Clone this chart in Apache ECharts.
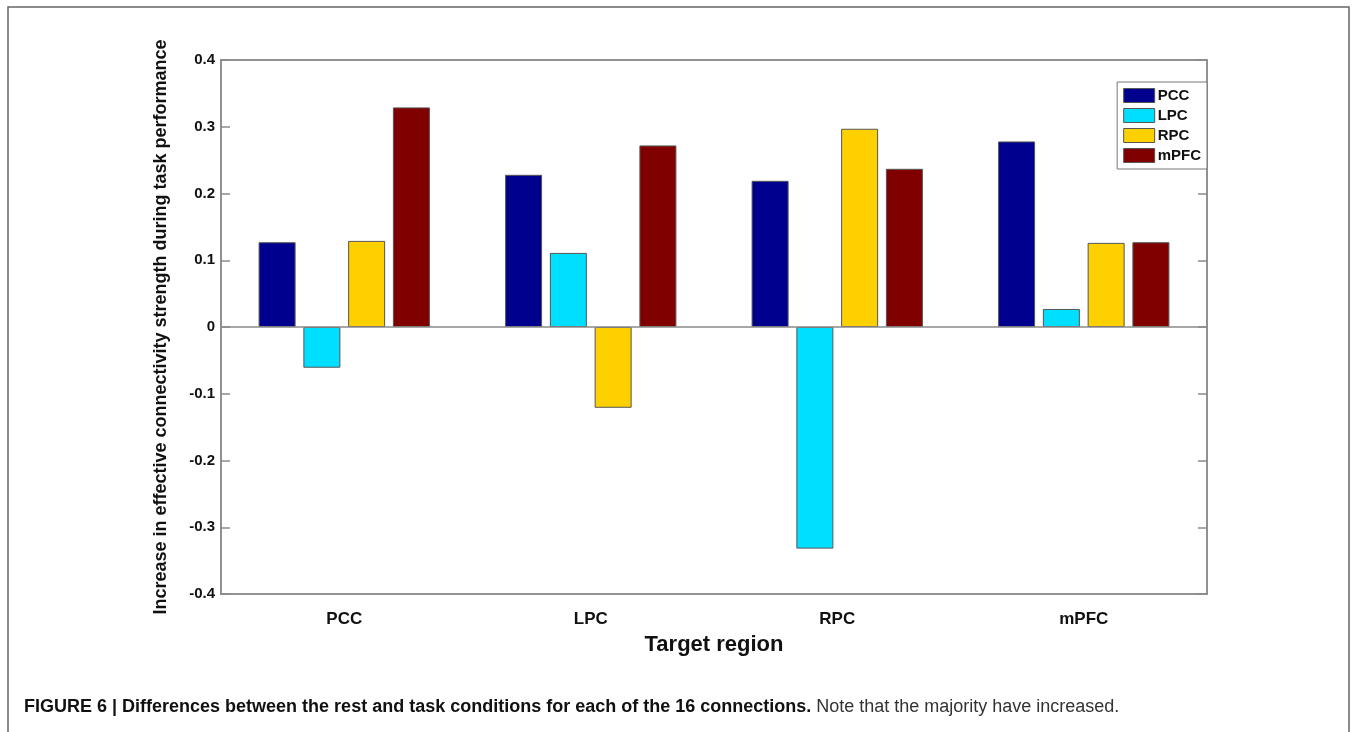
<!DOCTYPE html>
<html>
<head>
<meta charset="utf-8">
<script src="https://cdn.jsdelivr.net/npm/echarts@6/dist/echarts.min.js"></script>
<style>
html,body{margin:0;padding:0;background:#fff;}
#chart{width:1356px;height:732px;}
</style>
</head>
<body>
<div id="chart"></div>
<script>
const categories = ['PCC', 'LPC', 'RPC', 'mPFC'];
const seriesNames = ['PCC', 'LPC', 'RPC', 'mPFC'];
const pccValues  = [0.127, 0.228, 0.219, 0.278];
const lpcValues  = [-0.061, 0.111, -0.332, 0.027];
const rpcValues  = [0.129, -0.121, 0.297, 0.126];
const mpfcValues = [0.329, 0.272, 0.237, 0.127];
const yTicks = [-0.4, -0.3, -0.2, -0.1, 0, 0.1, 0.2, 0.3, 0.4];
const colors = ['#00008F', '#00DFFF', '#FFD000', '#800000'];
const captionBold = 'FIGURE 6 | Differences between the rest and task conditions for each of the 16 connections.';
const captionNormal = ' Note that the majority have increased.';

const allValues = [pccValues, lpcValues, rpcValues, mpfcValues];
const chart = echarts.init(document.getElementById('chart'));
const axisGray = '#8a8a8a';
const font = 'Liberation Sans, Arial, Helvetica, sans-serif';

const series = seriesNames.map((name, i) => ({
  name: name,
  type: 'bar',
  data: allValues[i],
  barWidth: 37,
  barGap: '21%',
  itemStyle: { color: colors[i], borderColor: '#555', borderWidth: 1 },
  emphasis: { disabled: true },
  markLine: i === 0 ? {
    silent: true, symbol: 'none', label: { show: false },
    lineStyle: { color: axisGray, type: 'solid', width: 1.5 },
    data: [{ yAxis: 0 }]
  } : undefined,
  z: 3
}));

chart.setOption({
  animation: false,
  backgroundColor: '#fff',
  grid: { left: 221, right: 149, top: 60, bottom: 138, show: true, borderColor: axisGray, borderWidth: 1.5 },
  legend: {
    data: seriesNames.map(n => ({ name: n, icon: 'rect' })),
    orient: 'vertical',
    right: 149,
    top: 82,
    itemWidth: 31,
    itemHeight: 14,
    itemGap: 5,
    padding: [6, 6, 6, 6],
    borderColor: '#777',
    borderWidth: 1,
    backgroundColor: '#fff',
    textStyle: { fontFamily: font, fontWeight: 'bold', fontSize: 15, color: '#111', padding: [0, 0, 0, -2] },
    itemStyle: { borderColor: '#555', borderWidth: 1 }
  },
  xAxis: [{
    type: 'category',
    data: categories,
    position: 'bottom',
    name: 'Target region',
    nameLocation: 'middle',
    nameGap: 40,
    nameTextStyle: { fontFamily: font, fontWeight: 'bold', fontSize: 22, color: '#111' },
    axisLine: { onZero: false, lineStyle: { color: axisGray, width: 1.5 } },
    axisTick: { inside: true, alignWithLabel: true, length: 9, lineStyle: { color: axisGray, width: 1.5 } },
    axisLabel: { fontFamily: font, fontWeight: 'bold', fontSize: 17, color: '#111', margin: 17 },
    splitLine: { show: false }
  }, {
    type: 'category',
    data: categories,
    position: 'top',
    axisLine: { onZero: false, lineStyle: { color: axisGray, width: 1.5 } },
    axisTick: { inside: true, alignWithLabel: true, length: 9, lineStyle: { color: axisGray, width: 1.5 } },
    axisLabel: { show: false }
  }],
  yAxis: [{
    type: 'value',
    min: -0.4, max: 0.4, interval: 0.1,
    name: 'Increase in effective connectivity strength during task performance',
    nameLocation: 'middle',
    nameGap: 51,
    nameTextStyle: { fontFamily: font, fontWeight: 'bold', fontSize: 18, color: '#111' },
    axisLine: { show: true, lineStyle: { color: axisGray, width: 1.5 } },
    axisTick: { show: true, inside: true, length: 9, lineStyle: { color: axisGray, width: 1.5 } },
    axisLabel: {
      fontFamily: font, fontWeight: 'bold', fontSize: 15, color: '#111', margin: 6,
      formatter: v => { const t = yTicks.find(x => Math.abs(x - v) < 1e-9); return t === 0 ? '0' : String(t); }
    },
    splitLine: { show: false }
  }, {
    type: 'value',
    min: -0.4, max: 0.4, interval: 0.1,
    position: 'right',
    axisLine: { show: true, lineStyle: { color: axisGray, width: 1.5 } },
    axisTick: { show: true, inside: true, length: 9, lineStyle: { color: axisGray, width: 1.5 } },
    axisLabel: { show: false },
    splitLine: { show: false }
  }],
  series: series,
  graphic: [
    { type: 'rect', x: 0, y: 0, shape: { x: 8, y: 7, width: 1341, height: 740 },
      style: { fill: 'none', stroke: '#666', lineWidth: 1.5 }, silent: true, z: -1 },
    { type: 'text', left: 24, top: 698,
      style: {
        text: '{b|' + captionBold + '}{n|' + captionNormal + '}',
        rich: {
          b: { fontFamily: 'Liberation Sans Narrow, Liberation Sans, Arial', fontWeight: 'bold', fontSize: 18, fill: '#111' },
          n: { fontFamily: 'Liberation Sans Narrow, Liberation Sans, Arial', fontSize: 18, fill: '#333' }
        }
      } }
  ]
});
</script>
</body>
</html>
